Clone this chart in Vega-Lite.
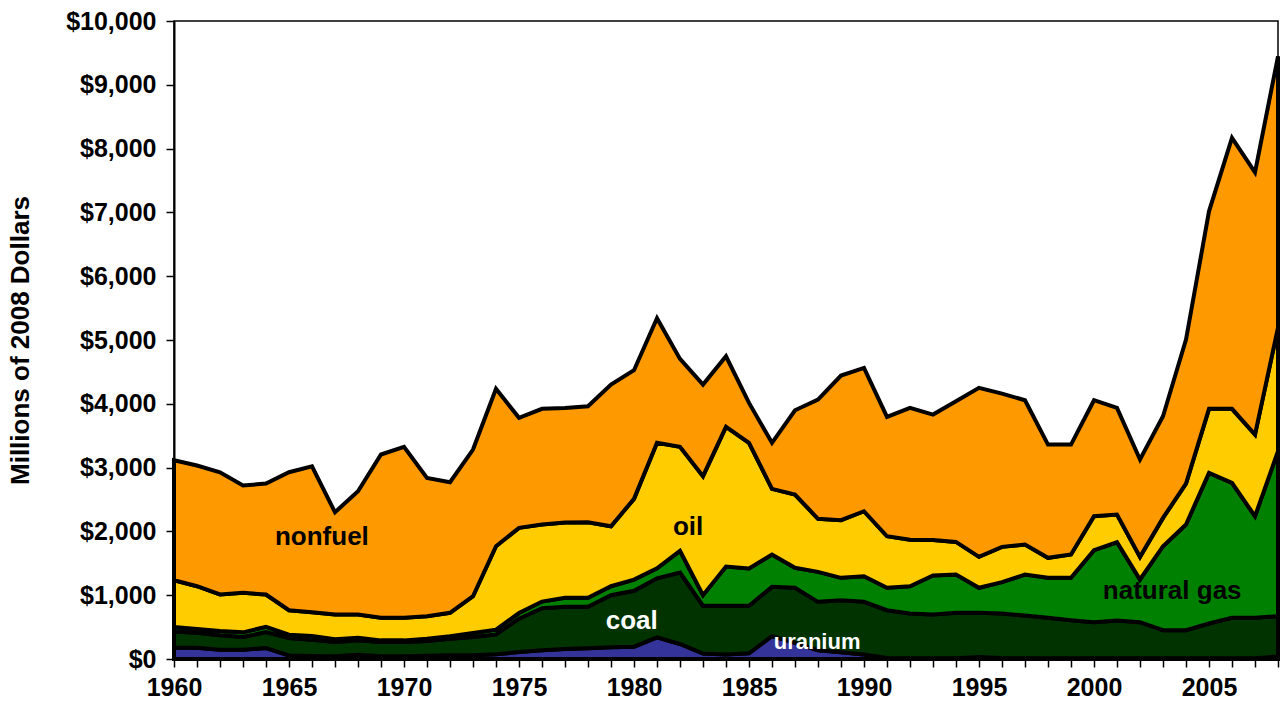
{
  "$schema": "https://vega.github.io/schema/vega-lite/v6.json",
  "width": 1104,
  "height": 638,
  "autosize": "none",
  "padding": {"left": 174, "top": 21, "right": 6, "bottom": 52},
  "background": "white",
  "config": {
    "view": {"stroke": "black", "strokeWidth": 1.5},
    "font": "Liberation Sans"
  },
  "datasets": {
    "mined": [
      {"year":1960,"source":"uranium","value":177},{"year":1960,"source":"coal","value":253},{"year":1960,"source":"natural gas","value":70},{"year":1960,"source":"oil","value":735},{"year":1960,"source":"nonfuel","value":1880},
      {"year":1961,"source":"uranium","value":177},{"year":1961,"source":"coal","value":233},{"year":1961,"source":"natural gas","value":60},{"year":1961,"source":"oil","value":671},{"year":1961,"source":"nonfuel","value":1891},
      {"year":1962,"source":"uranium","value":146},{"year":1962,"source":"coal","value":225},{"year":1962,"source":"natural gas","value":67},{"year":1962,"source":"oil","value":573},{"year":1962,"source":"nonfuel","value":1916},
      {"year":1963,"source":"uranium","value":146},{"year":1963,"source":"coal","value":199},{"year":1963,"source":"natural gas","value":73},{"year":1963,"source":"oil","value":619},{"year":1963,"source":"nonfuel","value":1682},
      {"year":1964,"source":"uranium","value":172},{"year":1964,"source":"coal","value":251},{"year":1964,"source":"natural gas","value":82},{"year":1964,"source":"oil","value":506},{"year":1964,"source":"nonfuel","value":1739},
      {"year":1965,"source":"uranium","value":55},{"year":1965,"source":"coal","value":274},{"year":1965,"source":"natural gas","value":52},{"year":1965,"source":"oil","value":384},{"year":1965,"source":"nonfuel","value":2162},
      {"year":1966,"source":"uranium","value":47},{"year":1966,"source":"coal","value":256},{"year":1966,"source":"natural gas","value":57},{"year":1966,"source":"oil","value":374},{"year":1966,"source":"nonfuel","value":2287},
      {"year":1967,"source":"uranium","value":42},{"year":1967,"source":"coal","value":224},{"year":1967,"source":"natural gas","value":42},{"year":1967,"source":"oil","value":389},{"year":1967,"source":"nonfuel","value":1603},
      {"year":1968,"source":"uranium","value":68},{"year":1968,"source":"coal","value":224},{"year":1968,"source":"natural gas","value":42},{"year":1968,"source":"oil","value":363},{"year":1968,"source":"nonfuel","value":1933},
      {"year":1969,"source":"uranium","value":42},{"year":1969,"source":"coal","value":224},{"year":1969,"source":"natural gas","value":26},{"year":1969,"source":"oil","value":354},{"year":1969,"source":"nonfuel","value":2559},
      {"year":1970,"source":"uranium","value":42},{"year":1970,"source":"coal","value":224},{"year":1970,"source":"natural gas","value":26},{"year":1970,"source":"oil","value":354},{"year":1970,"source":"nonfuel","value":2679},
      {"year":1971,"source":"uranium","value":52},{"year":1971,"source":"coal","value":230},{"year":1971,"source":"natural gas","value":36},{"year":1971,"source":"oil","value":353},{"year":1971,"source":"nonfuel","value":2168},
      {"year":1972,"source":"uranium","value":57},{"year":1972,"source":"coal","value":261},{"year":1972,"source":"natural gas","value":37},{"year":1972,"source":"oil","value":369},{"year":1972,"source":"nonfuel","value":2047},
      {"year":1973,"source":"uranium","value":57},{"year":1973,"source":"coal","value":288},{"year":1973,"source":"natural gas","value":62},{"year":1973,"source":"oil","value":577},{"year":1973,"source":"nonfuel","value":2299},
      {"year":1974,"source":"uranium","value":73},{"year":1974,"source":"coal","value":313},{"year":1974,"source":"natural gas","value":74},{"year":1974,"source":"oil","value":1308},{"year":1974,"source":"nonfuel","value":2466},
      {"year":1975,"source":"uranium","value":110},{"year":1975,"source":"coal","value":522},{"year":1975,"source":"natural gas","value":88},{"year":1975,"source":"oil","value":1336},{"year":1975,"source":"nonfuel","value":1724},
      {"year":1976,"source":"uranium","value":136},{"year":1976,"source":"coal","value":659},{"year":1976,"source":"natural gas","value":105},{"year":1976,"source":"oil","value":1208},{"year":1976,"source":"nonfuel","value":1813},
      {"year":1977,"source":"uranium","value":157},{"year":1977,"source":"coal","value":663},{"year":1977,"source":"natural gas","value":139},{"year":1977,"source":"oil","value":1181},{"year":1977,"source":"nonfuel","value":1796},
      {"year":1978,"source":"uranium","value":170},{"year":1978,"source":"coal","value":650},{"year":1978,"source":"natural gas","value":139},{"year":1978,"source":"oil","value":1185},{"year":1978,"source":"nonfuel","value":1818},
      {"year":1979,"source":"uranium","value":183},{"year":1979,"source":"coal","value":817},{"year":1979,"source":"natural gas","value":141},{"year":1979,"source":"oil","value":940},{"year":1979,"source":"nonfuel","value":2220},
      {"year":1980,"source":"uranium","value":193},{"year":1980,"source":"coal","value":877},{"year":1980,"source":"natural gas","value":175},{"year":1980,"source":"oil","value":1265},{"year":1980,"source":"nonfuel","value":2016},
      {"year":1981,"source":"uranium","value":340},{"year":1981,"source":"coal","value":925},{"year":1981,"source":"natural gas","value":155},{"year":1981,"source":"oil","value":1968},{"year":1981,"source":"nonfuel","value":1952},
      {"year":1982,"source":"uranium","value":235},{"year":1982,"source":"coal","value":1120},{"year":1982,"source":"natural gas","value":340},{"year":1982,"source":"oil","value":1630},{"year":1982,"source":"nonfuel","value":1379},
      {"year":1983,"source":"uranium","value":85},{"year":1983,"source":"coal","value":750},{"year":1983,"source":"natural gas","value":165},{"year":1983,"source":"oil","value":1865},{"year":1983,"source":"nonfuel","value":1436},
      {"year":1984,"source":"uranium","value":70},{"year":1984,"source":"coal","value":765},{"year":1984,"source":"natural gas","value":615},{"year":1984,"source":"oil","value":2189},{"year":1984,"source":"nonfuel","value":1106},
      {"year":1985,"source":"uranium","value":90},{"year":1985,"source":"coal","value":745},{"year":1985,"source":"natural gas","value":585},{"year":1985,"source":"oil","value":1968},{"year":1985,"source":"nonfuel","value":626},
      {"year":1986,"source":"uranium","value":358},{"year":1986,"source":"coal","value":773},{"year":1986,"source":"natural gas","value":507},{"year":1986,"source":"oil","value":1029},{"year":1986,"source":"nonfuel","value":721},
      {"year":1987,"source":"uranium","value":253},{"year":1987,"source":"coal","value":863},{"year":1987,"source":"natural gas","value":313},{"year":1987,"source":"oil","value":1149},{"year":1987,"source":"nonfuel","value":1321},
      {"year":1988,"source":"uranium","value":138},{"year":1988,"source":"coal","value":758},{"year":1988,"source":"natural gas","value":470},{"year":1988,"source":"oil","value":831},{"year":1988,"source":"nonfuel","value":1869},
      {"year":1989,"source":"uranium","value":107},{"year":1989,"source":"coal","value":814},{"year":1989,"source":"natural gas","value":351},{"year":1989,"source":"oil","value":903},{"year":1989,"source":"nonfuel","value":2267},
      {"year":1990,"source":"uranium","value":70},{"year":1990,"source":"coal","value":826},{"year":1990,"source":"natural gas","value":402},{"year":1990,"source":"oil","value":1018},{"year":1990,"source":"nonfuel","value":2247},
      {"year":1991,"source":"uranium","value":15},{"year":1991,"source":"coal","value":750},{"year":1991,"source":"natural gas","value":351},{"year":1991,"source":"oil","value":808},{"year":1991,"source":"nonfuel","value":1871},
      {"year":1992,"source":"uranium","value":10},{"year":1992,"source":"coal","value":703},{"year":1992,"source":"natural gas","value":428},{"year":1992,"source":"oil","value":729},{"year":1992,"source":"nonfuel","value":2066},
      {"year":1993,"source":"uranium","value":10},{"year":1993,"source":"coal","value":687},{"year":1993,"source":"natural gas","value":611},{"year":1993,"source":"oil","value":557},{"year":1993,"source":"nonfuel","value":1966},
      {"year":1994,"source":"uranium","value":10},{"year":1994,"source":"coal","value":714},{"year":1994,"source":"natural gas","value":600},{"year":1994,"source":"oil","value":511},{"year":1994,"source":"nonfuel","value":2205},
      {"year":1995,"source":"uranium","value":30},{"year":1995,"source":"coal","value":694},{"year":1995,"source":"natural gas","value":392},{"year":1995,"source":"oil","value":485},{"year":1995,"source":"nonfuel","value":2649},
      {"year":1996,"source":"uranium","value":15},{"year":1996,"source":"coal","value":698},{"year":1996,"source":"natural gas","value":491},{"year":1996,"source":"oil","value":554},{"year":1996,"source":"nonfuel","value":2402},
      {"year":1997,"source":"uranium","value":10},{"year":1997,"source":"coal","value":672},{"year":1997,"source":"natural gas","value":642},{"year":1997,"source":"oil","value":470},{"year":1997,"source":"nonfuel","value":2262},
      {"year":1998,"source":"uranium","value":10},{"year":1998,"source":"coal","value":636},{"year":1998,"source":"natural gas","value":626},{"year":1998,"source":"oil","value":314},{"year":1998,"source":"nonfuel","value":1775},
      {"year":1999,"source":"uranium","value":10},{"year":1999,"source":"coal","value":598},{"year":1999,"source":"natural gas","value":664},{"year":1999,"source":"oil","value":366},{"year":1999,"source":"nonfuel","value":1723},
      {"year":2000,"source":"uranium","value":10},{"year":2000,"source":"coal","value":567},{"year":2000,"source":"natural gas","value":1128},{"year":2000,"source":"oil","value":533},{"year":2000,"source":"nonfuel","value":1818},
      {"year":2001,"source":"uranium","value":10},{"year":2001,"source":"coal","value":593},{"year":2001,"source":"natural gas","value":1227},{"year":2001,"source":"oil","value":434},{"year":2001,"source":"nonfuel","value":1672},
      {"year":2002,"source":"uranium","value":10},{"year":2002,"source":"coal","value":567},{"year":2002,"source":"natural gas","value":669},{"year":2002,"source":"oil","value":355},{"year":2002,"source":"nonfuel","value":1525},
      {"year":2003,"source":"uranium","value":10},{"year":2003,"source":"coal","value":441},{"year":2003,"source":"natural gas","value":1317},{"year":2003,"source":"oil","value":444},{"year":2003,"source":"nonfuel","value":1593},
      {"year":2004,"source":"uranium","value":10},{"year":2004,"source":"coal","value":441},{"year":2004,"source":"natural gas","value":1657},{"year":2004,"source":"oil","value":642},{"year":2004,"source":"nonfuel","value":2256},
      {"year":2005,"source":"uranium","value":10},{"year":2005,"source":"coal","value":546},{"year":2005,"source":"natural gas","value":2362},{"year":2005,"source":"oil","value":1003},{"year":2005,"source":"nonfuel","value":3096},
      {"year":2006,"source":"uranium","value":10},{"year":2006,"source":"coal","value":636},{"year":2006,"source":"natural gas","value":2115},{"year":2006,"source":"oil","value":1160},{"year":2006,"source":"nonfuel","value":4246},
      {"year":2007,"source":"uranium","value":10},{"year":2007,"source":"coal","value":636},{"year":2007,"source":"natural gas","value":1592},{"year":2007,"source":"oil","value":1280},{"year":2007,"source":"nonfuel","value":4110},
      {"year":2008,"source":"uranium","value":40},{"year":2008,"source":"coal","value":631},{"year":2008,"source":"natural gas","value":2585},{"year":2008,"source":"oil","value":1938},{"year":2008,"source":"nonfuel","value":4252}
    ],
    "labels": [
      {"label":"nonfuel","year":1966.43,"value":1920},
      {"label":"oil","year":1982.35,"value":2076},
      {"label":"coal","year":1979.9,"value":588},
      {"label":"uranium","year":1987.96,"value":274},
      {"label":"natural gas","year":2003.4,"value":1058}
    ]
  },
  "encoding": {
    "x": {
      "field": "year", "type": "quantitative",
      "scale": {"domain": [1960, 2008], "nice": false, "zero": false},
      "axis": {
        "title": null,
        "ticks": true,
        "values": [1960,1961,1962,1963,1964,1965,1966,1967,1968,1969,1970,1971,1972,1973,1974,1975,1976,1977,1978,1979,1980,1981,1982,1983,1984,1985,1986,1987,1988,1989,1990,1991,1992,1993,1994,1995,1996,1997,1998,1999,2000,2001,2002,2003,2004,2005,2006,2007,2008],
        "labelExpr": "(datum.value % 5 == 0 && datum.value < 2008) ? datum.label : ''",
        "format": "d",
        "labelOverlap": false,
        "labelFlush": false,
        "labelBound": false,
        "labelFont": "Liberation Sans", "labelFontWeight": "bold", "labelFontSize": 25, "labelColor": "black",
        "labelPadding": 8,
        "grid": false,
        "domainColor": "black", "domainWidth": 2,
        "tickColor": "black", "tickWidth": 1.5, "tickSize": 8
      }
    },
    "y": {
      "field": "value", "type": "quantitative",
      "scale": {"domain": [0, 10000], "nice": false},
      "axis": {
        "title": "Millions of 2008 Dollars",
        "titleFont": "Liberation Sans", "titleFontWeight": "bold", "titleFontSize": 26, "titleColor": "black",
        "titlePadding": 32,
        "ticks": true,
        "values": [0,1000,2000,3000,4000,5000,6000,7000,8000,9000,10000],
        "format": "$,.0f",
        "labelOverlap": false,
        "labelFlush": false,
        "labelFont": "Liberation Sans", "labelFontWeight": "bold", "labelFontSize": 25, "labelColor": "black",
        "labelPadding": 10,
        "grid": false,
        "domainColor": "black", "domainWidth": 2,
        "tickColor": "black", "tickWidth": 1.5, "tickSize": 8
      }
    }
  },
  "layer": [
    {
      "data": {"name": "mined"},
      "transform": [
        {"calculate": "indexof(['uranium','coal','natural gas','oil','nonfuel'], datum.source)", "as": "stackrank"}
      ],
      "mark": {"type": "area", "stroke": "black", "strokeWidth": 4, "strokeJoin": "miter", "opacity": 1},
      "encoding": {
        "y": {"field": "value", "type": "quantitative", "stack": "zero"},
        "order": {"field": "stackrank", "type": "quantitative", "sort": "ascending"},
        "color": {
          "field": "source", "type": "nominal",
          "scale": {"domain": ["uranium", "coal", "natural gas", "oil", "nonfuel"], "range": ["#333399", "#003300", "#008000", "#FFCC00", "#FF9900"]},
          "legend": null
        }
      }
    },
    {
      "data": {"name": "labels"},
      "mark": {"type": "text", "font": "Liberation Sans", "fontWeight": "bold", "align": "center", "baseline": "middle"},
      "encoding": {
        "y": {"field": "value", "type": "quantitative", "stack": null},
        "text": {"field": "label"},
        "color": {"condition": {"test": "datum.label == 'coal' || datum.label == 'uranium'", "value": "white"}, "value": "black"},
        "size": {"condition": {"test": "datum.label == 'uranium'", "value": 22}, "value": 26}
      }
    }
  ]
}
